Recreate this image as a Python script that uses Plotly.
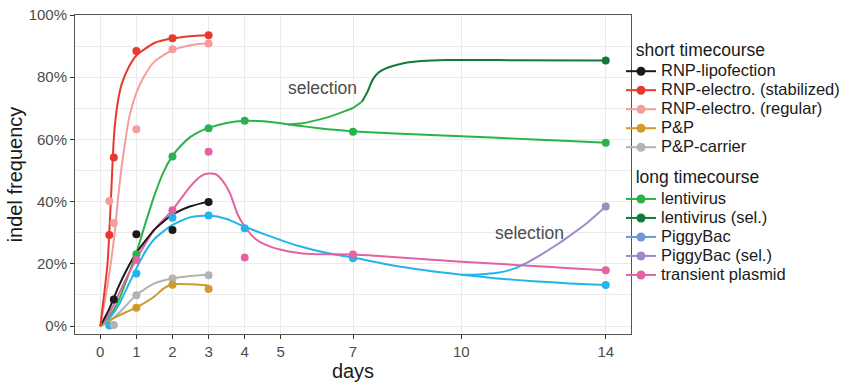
import plotly.graph_objects as go

# ---------------- measured points ----------------
lipo_days = [0.375, 1, 2, 3]
lipo_vals = [8.5, 29.5, 30.9, 39.9]
stab_days = [0.25, 0.375, 1, 2, 3]
stab_vals = [29.3, 54.2, 88.4, 92.5, 93.5]
reg_days = [0.25, 0.375, 1, 2, 3]
reg_vals = [40.2, 33.1, 63.3, 89.0, 90.8]
pp_days = [1, 2, 3]
pp_vals = [5.9, 13.3, 11.9]
ppc_days = [0.375, 1, 2, 3]
ppc_vals = [0.3, 9.9, 15.3, 16.3]
lenti_days = [1, 2, 3, 4, 7, 14]
lenti_vals = [23.1, 54.5, 63.6, 66.0, 62.5, 58.9]
lentisel_days = [14]
lentisel_vals = [85.4]
pb_days = [0.25, 1, 2, 3, 4, 7, 14]
pb_vals = [0.2, 16.9, 34.8, 35.5, 31.4, 21.8, 13.2]
pbsel_days = [14]
pbsel_vals = [38.4]
plas_days = [1, 2, 3, 4, 7, 14]
plas_vals = [21.2, 37.2, 56.0, 22.0, 23.0, 17.9]

# ---------------- fitted curves ----------------
c_stab_d = [0, 0.2, 0.3, 0.35, 0.4, 0.5, 0.6, 0.8, 1.0, 1.5, 2, 2.5, 3]
c_stab_v = [0, 20, 42, 55, 64, 73, 78, 83.5, 87, 91, 92.5, 93.2, 93.6]
c_reg_d = [0, 0.2, 0.4, 0.5, 0.6, 0.7, 0.8, 1.0, 1.2, 1.5, 2, 2.5, 3]
c_reg_v = [0, 13, 30, 42, 52, 60, 67, 75, 80, 85, 88.7, 90.3, 90.9]
c_lipo_d = [0, 0.25, 0.5, 0.75, 1, 1.5, 2, 2.5, 3]
c_lipo_v = [0, 5.5, 12.5, 18.5, 23.5, 31, 35.8, 38.5, 40]
c_pp_d = [0, 0.25, 0.5, 0.75, 1, 1.25, 1.5, 1.75, 2, 2.5, 3]
c_pp_v = [0, 1.8, 3.3, 4.6, 6, 7.6, 9.5, 12, 13.4, 13.4, 13.0]
c_ppc_d = [0, 0.25, 0.5, 0.75, 1, 1.5, 2, 2.5, 3]
c_ppc_v = [0, 1.5, 4, 7, 10, 13.7, 15.3, 16.1, 16.6]
c_lenti_d = [0, 0.25, 0.5, 0.75, 1, 1.25, 1.5, 1.75, 2, 2.25, 2.5, 2.75, 3, 3.5, 4, 4.5, 5, 5.5, 6, 7, 8, 9, 10, 11, 12, 13, 14]
c_lenti_v = [0, 3, 8, 15.5, 23.5, 33, 42, 49.5, 54.7, 58.2, 60.8, 62.5, 63.7, 65.3, 66, 65.8, 65.2, 64.4, 63.7, 62.6, 62, 61.5, 61.0, 60.5, 60, 59.5, 58.9]
c_lsel1_d = [5.2, 5.6, 6.0, 6.4, 6.8, 7.0, 7.25]
c_lsel1_v = [64.8, 65.2, 66.2, 67.5, 69.2, 70.1, 72.2]
c_lsel2_d = [7.25, 7.4, 7.55, 7.7, 7.85, 8.1, 8.4, 8.9, 9.6, 11, 14]
c_lsel2_v = [72.2, 75.3, 79.3, 81.4, 82.5, 83.6, 84.5, 85.2, 85.5, 85.5, 85.4]
c_pb_d = [0, 0.25, 0.5, 0.75, 1, 1.25, 1.5, 2, 2.5, 3, 3.5, 4, 4.5, 5, 5.5, 6, 6.5, 7, 8, 9, 10, 11, 12, 13, 14]
c_pb_v = [0, 2.5, 6.5, 12.5, 18.5, 24, 28, 32.5, 35, 35.5, 34.4, 31.9, 29.7, 27.6, 25.7, 24.2, 23.0, 22.0, 19.7, 17.9, 16.5, 15.3, 14.4, 13.7, 13.2]
c_psel1_d = [10.0, 10.5, 11.0, 11.5, 11.8]
c_psel1_v = [16.5, 16.6, 17.1, 18.6, 20.2]
c_psel2_d = [11.8, 12.2, 12.6, 13.0, 13.5, 14]
c_psel2_v = [20.2, 22.9, 25.8, 29.0, 33.3, 38.4]
c_plas_d = [0, 0.25, 0.5, 0.75, 1, 1.5, 2, 2.5, 2.8, 3, 3.2, 3.4, 3.6, 3.8, 4, 4.3, 4.6, 5, 5.5, 6, 7, 8, 9, 10, 11, 12, 13, 14]
c_plas_v = [0, 4, 10, 16, 21.5, 31, 37.3, 45, 48.3, 49, 48.8, 46.5, 42.5, 36, 32, 28, 26, 24.5, 23.5, 23.1, 23, 22.3, 21.5, 20.7, 20, 19.3, 18.6, 17.9]

x_ticks = [0, 1, 2, 3, 4, 5, 7, 10, 14]
y_ticks = [0, 20, 40, 60, 80, 100]
y_labels = ["0%", "20%", "40%", "60%", "80%", "100%"]

short_names = ["RNP-lipofection", "RNP-electro. (stabilized)", "RNP-electro. (regular)", "P&P", "P&P-carrier"]
short_colors = ["#1a1a1a", "#e8392f", "#f59c9c", "#cf9b2c", "#b3b3b3"]
long_names = ["lentivirus", "lentivirus (sel.)", "PiggyBac", "PiggyBac (sel.)", "transient plasmid"]
long_colors = ["#2bb34b", "#0f7a3a", "#6f97d3", "#9b8cc6", "#e262a3"]

C_LIPO, C_STAB, C_REG, C_PP, C_PPC = short_colors
C_LENTI, C_LSEL = long_colors[0], long_colors[1]
C_PB_LINE = "#22b4ea"
C_PSEL = long_colors[3]
C_PLAS = long_colors[4]

fig = go.Figure()

def curve(d, v, color):
    fig.add_trace(go.Scatter(x=d, y=v, mode="lines", line=dict(color=color, width=2, shape="spline", smoothing=0.6),
                             showlegend=False, hoverinfo="skip"))

def pts(d, v, color):
    fig.add_trace(go.Scatter(x=d, y=v, mode="markers", marker=dict(color=color, size=8),
                             showlegend=False))

curve(c_lenti_d, c_lenti_v, C_LENTI)
curve(c_lsel1_d, c_lsel1_v, C_LENTI)
curve(c_lsel2_d, c_lsel2_v, C_LSEL)
curve(c_pb_d, c_pb_v, C_PB_LINE)
curve(c_psel1_d, c_psel1_v, C_PB_LINE)
curve(c_psel2_d, c_psel2_v, C_PSEL)
curve(c_plas_d, c_plas_v, C_PLAS)
curve(c_ppc_d, c_ppc_v, C_PPC)
curve(c_pp_d, c_pp_v, C_PP)
curve(c_lipo_d, c_lipo_v, C_LIPO)
curve(c_reg_d, c_reg_v, C_REG)
curve(c_stab_d, c_stab_v, C_STAB)

pts(lenti_days, lenti_vals, C_LENTI)
pts(lentisel_days, lentisel_vals, C_LSEL)
pts(pb_days, pb_vals, C_PB_LINE)
pts(pbsel_days, pbsel_vals, C_PSEL)
pts(plas_days, plas_vals, C_PLAS)
pts(ppc_days, ppc_vals, C_PPC)
pts(pp_days, pp_vals, C_PP)
pts(lipo_days, lipo_vals, C_LIPO)
pts(reg_days, reg_vals, C_REG)
pts(stab_days, stab_vals, C_STAB)

# legend entries
for grp, title, names, cols in [("short", "short timecourse", short_names, short_colors),
                                ("long", "long timecourse", long_names, long_colors)]:
    for i, (n, c) in enumerate(zip(names, cols)):
        fig.add_trace(go.Scatter(
            x=[None], y=[None], mode="lines+markers",
            name='<span style="font-size:16.5px">' + n + '</span>',
            line=dict(color=c, width=2), marker=dict(color=c, size=9),
            legendgroup=grp,
            legendgrouptitle=dict(text="&nbsp;&nbsp;" + title, font=dict(size=17.5, color="#1a1a1a")) if i == 0 else None,
        ))

for tx, ty, txt in [(6.15, 76.5, "selection"), (11.9, 29.9, "selection")]:
    fig.add_annotation(x=tx, y=ty, text=txt, showarrow=False,
                       font=dict(size=17.5, color="#4d4d4d"))

axis_common = dict(showline=True, linecolor="#555555", linewidth=1, mirror=True,
                   ticks="outside", ticklen=4, tickcolor="#333333",
                   showgrid=True, gridcolor="#ebebeb", gridwidth=1, zeroline=False,
                   automargin=False,
                   tickfont=dict(size=15, color="#4d4d4d"))

fig.update_xaxes(range=[-0.7, 14.7], tickvals=x_ticks, ticktext=[str(t) for t in x_ticks],
                 title=dict(text="days", font=dict(size=20, color="#1a1a1a"), standoff=4),
                 **axis_common)
fig.update_yaxes(range=[-2.57, 100], tickvals=y_ticks, ticktext=y_labels,
                 minor=dict(dtick=10, tick0=0, showgrid=True, gridcolor="#ebebeb", ticks=""),
                 title=dict(text="indel frequency", font=dict(size=20, color="#1a1a1a"), standoff=0),
                 **axis_common)

fig.update_layout(
    width=847, height=385,
    margin=dict(l=75, r=216, t=15, b=51, autoexpand=False),
    plot_bgcolor="white", paper_bgcolor="white",
    font=dict(family="Liberation Sans, Arial, sans-serif", color="#1a1a1a"),
    legend=dict(xref="paper", yref="paper", x=0.982, y=0.95, xanchor="left", yanchor="top",
                font=dict(size=12, color="#1a1a1a"), tracegroupgap=7, itemwidth=30,
                bgcolor="rgba(0,0,0,0)"),
)

fig.write_html("out.html", config={"displayModeBar": False},
               post_script="document.body.style.margin='0px';")
